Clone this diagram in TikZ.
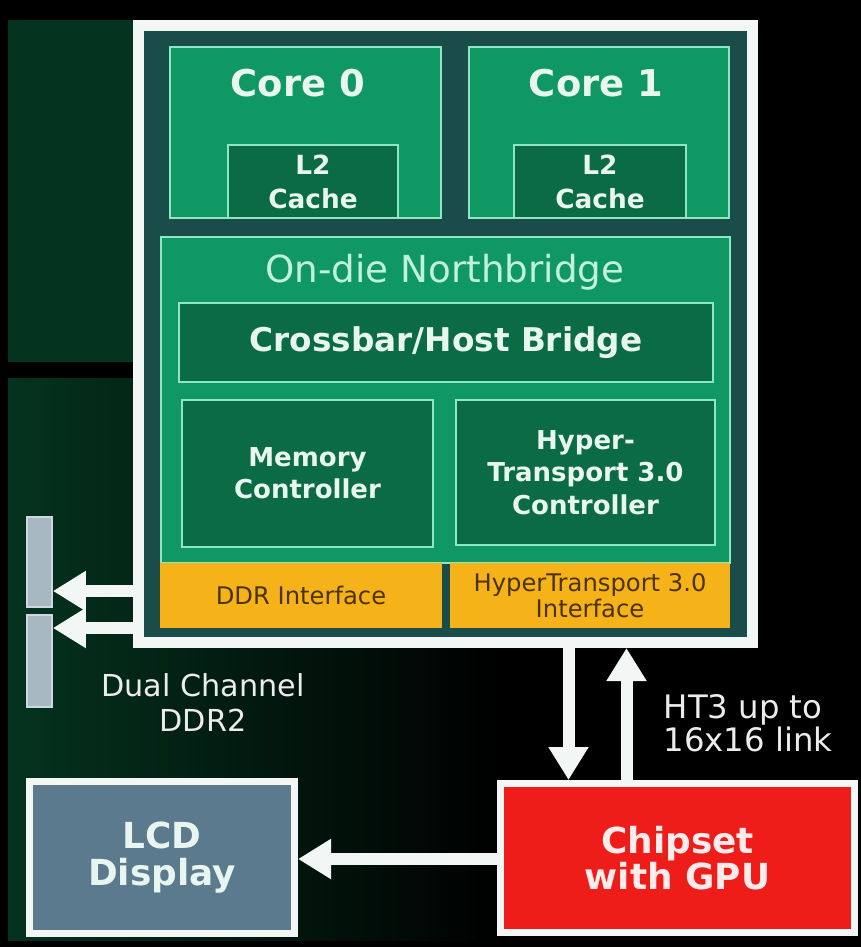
\documentclass[tikz,border=0pt]{standalone}
\usepackage{fontspec}
\setmainfont{DejaVu Sans}
\usetikzlibrary{arrows.meta}
\pgfdeclarelayer{bglayer}
\pgfdeclarelayer{edgelayer}
\pgfdeclarelayer{nodelayer}
\pgfsetlayers{bglayer,edgelayer,nodelayer,main}
\definecolor{bggreen}{HTML}{04331F}
\definecolor{chipteal}{HTML}{1A4C4A}
\definecolor{coregreen}{HTML}{0F9863}
\definecolor{innergreen}{HTML}{0A6B45}
\definecolor{mint}{HTML}{8EE6C2}
\definecolor{edgewhite}{HTML}{F2F7F5}
\definecolor{ifyellow}{HTML}{F6B319}
\definecolor{ifbrown}{HTML}{4A3205}
\definecolor{dimmgrey}{HTML}{A8B8C3}
\definecolor{lcdblue}{HTML}{5C7A8D}
\definecolor{gpured}{HTML}{EE1D19}
\definecolor{paletext}{HTML}{E8F6EF}
\tikzset{font=\fontsize{7.4}{9.2}\selectfont}
\tikzstyle{none}=[inner sep=0pt]
\tikzstyle{die}=[rectangle,inner sep=0pt,fill=chipteal,draw=edgewhite,line width=0.11cm]
\tikzstyle{block}=[rectangle,inner sep=0pt,fill=coregreen,draw=mint,line width=0.6pt]
\tikzstyle{unit}=[rectangle,inner sep=0pt,fill=innergreen,draw=mint,line width=0.6pt,text=paletext,align=center,font=\bfseries\fontsize{7.4}{9.2}\selectfont]
\tikzstyle{iface}=[rectangle,inner sep=0pt,fill=ifyellow,text=ifbrown,align=center,font=\fontsize{6.9}{7.4}\selectfont]
\tikzstyle{dimm}=[rectangle,inner sep=0pt,fill=dimmgrey,draw=dimmgrey!55!white,line width=0.5pt,minimum width=0.25cm]
\tikzstyle{coretitle}=[inner sep=0pt,text=paletext,font=\bfseries\fontsize{10.5}{12}\selectfont]
\tikzstyle{board}=[rectangle,inner sep=0pt,draw=edgewhite,line width=0.07cm,align=center,font=\bfseries\fontsize{10.2}{10.3}\selectfont]
\tikzstyle{caption}=[inner sep=0pt,align=center,text=white!85!gray]
\tikzstyle{bus}=[draw=edgewhite,line width=0.12cm,-{Triangle[width=0.38cm,length=0.33cm]}]

\begin{document}
\begin{tikzpicture}
	\useasboundingbox (0,0) rectangle (8.61,-9.47);
	\begin{pgfonlayer}{bglayer}
		\fill[black] (0,0) rectangle (8.61,-9.47);
		\fill[bggreen] (0.08,-0.20) rectangle (1.33,-3.62);
		\shade[left color=bggreen,right color=black] (0.08,-3.78) rectangle (5.0,-9.40);
	\end{pgfonlayer}
	\begin{pgfonlayer}{nodelayer}
		% processor die
		\node [style=die,minimum width=6.14cm,minimum height=6.17cm] (3) at (4.45,-3.34) {};
		\node [style=block,minimum width=2.71cm,minimum height=1.71cm] (4) at (3.055,-1.325) {};
		\node [style=block,minimum width=2.60cm,minimum height=1.71cm] (5) at (5.99,-1.325) {};
		\node [style=unit,minimum width=1.70cm,minimum height=0.73cm,font=\bfseries\fontsize{7.5}{9.7}\selectfont] (6) at (3.13,-1.815) {L2\\Cache};
		\node [style=unit,minimum width=1.72cm,minimum height=0.73cm,font=\bfseries\fontsize{7.5}{9.7}\selectfont] (7) at (6.00,-1.815) {L2\\Cache};
		\node [style=coretitle] (8) at (2.98,-0.83) {Core 0};
		\node [style=coretitle] (9) at (5.96,-0.83) {Core 1};
		% northbridge
		\node [style=block,minimum width=5.69cm,minimum height=3.26cm] (10) at (4.455,-4.00) {};
		\node [style=none,text=mint!55!white,font=\fontsize{10.6}{12}\selectfont] (11) at (4.45,-2.72) {On-die Northbridge};
		\node [style=unit,minimum width=5.34cm,minimum height=0.79cm,font=\bfseries\fontsize{9.3}{11}\selectfont] (12) at (4.46,-3.425) {Crossbar/Host Bridge};
		\node [style=unit,minimum width=2.51cm,minimum height=1.47cm] (13) at (3.075,-4.735) {Memory\\Controller};
		\node [style=unit,minimum width=2.59cm,minimum height=1.45cm] (14) at (5.855,-4.725) {Hyper-\\Transport 3.0\\Controller};
		\node [style=iface,minimum width=2.82cm,minimum height=0.65cm] (15) at (3.01,-5.955) {DDR Interface};
		\node [style=iface,minimum width=2.80cm,minimum height=0.65cm] (16) at (5.90,-5.955) {HyperTransport 3.0\\Interface};
		% memory and board
		\node [style=dimm,minimum height=0.90cm] (17) at (0.395,-5.62) {};
		\node [style=dimm,minimum height=0.92cm] (18) at (0.395,-6.61) {};
		\node [style=caption,font=\fontsize{8.6}{10}\selectfont] (19) at (2.03,-7.025) {Dual Channel\\DDR2};
		\node [style=board,fill=lcdblue,text=paletext,minimum width=2.65cm,minimum height=1.52cm] (20) at (1.62,-8.575) {LCD\\Display};
		\node [style=board,fill=gpured,text=red!8!white,minimum width=3.54cm,minimum height=1.49cm] (21) at (6.775,-8.58) {Chipset\\with GPU};
		\node [style=caption,align=left,anchor=west,font=\fontsize{9.2}{9.4}\selectfont] (22) at (6.63,-7.235) {HT3 up to\\16x16 link};
		\coordinate (30) at (0,-5.91);
		\coordinate (31) at (0,-6.28);
		\coordinate (32) at (5.685,0);
		\coordinate (33) at (6.265,0);
		\coordinate (34) at (0,-8.59);
	\end{pgfonlayer}
	\begin{pgfonlayer}{edgelayer}
		\draw [style=bus] (3.west |- 30) to (17.east |- 30);
		\draw [style=bus] (3.west |- 31) to (18.east |- 31);
		\draw [style=bus] (3.south -| 32) to (21.north -| 32);
		\draw [style=bus] (21.north -| 33) to (3.south -| 33);
		\draw [style=bus] (21.west |- 34) to (20.east |- 34);
	\end{pgfonlayer}
\end{tikzpicture}
\end{document}
